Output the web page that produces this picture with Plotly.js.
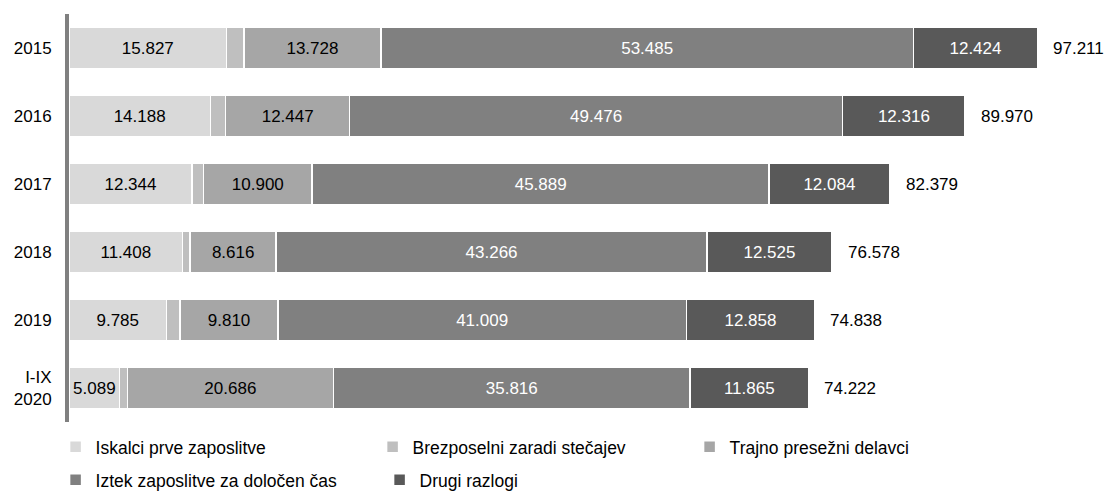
<!DOCTYPE html>
<html>
<head>
<meta charset="utf-8">
<script src="https://cdn.plot.ly/plotly-3.0.1.min.js"></script>
<style>html,body{margin:0;padding:0;background:#fff;}#chart{width:1110px;height:494px;}</style>
</head>
<body>
<div id="chart"></div>
<script>
const categories = ['2015', '2016', '2017', '2018', '2019', '2020'];
const tickLabels = ['2015', '2016', '2017', '2018', '2019', 'I-IX<br>2020'];
const seriesNames = ['Iskalci prve zaposlitve', 'Brezposelni zaradi stečajev', 'Trajno presežni delavci', 'Iztek zaposlitve za določen čas', 'Drugi razlogi'];
const iskalci = [15827, 14188, 12344, 11408, 9785, 5089];
const stecaji = [1747, 1543, 1162, 763, 1376, 766];
const trajno = [13728, 12447, 10900, 8616, 9810, 20686];
const iztek = [53485, 49476, 45889, 43266, 41009, 35816];
const drugi = [12424, 12316, 12084, 12525, 12858, 11865];
const totals = [97211, 89970, 82379, 76578, 74838, 74222];

const colors = ['#d9d9d9', '#bfbfbf', '#a6a6a6', '#808080', '#595959'];
const textColors = ['#000000', '#000000', '#000000', '#ffffff', '#ffffff'];
const showLabel = [true, false, true, true, true];
const seriesValues = [iskalci, stecaji, trajno, iztek, drugi];
const legendOf = ['legend', 'legend', 'legend', 'legend2', 'legend2'];

const FONT = '"Liberation Sans", Arial, sans-serif';

const traces = seriesValues.map((vals, i) => ({
  type: 'bar',
  orientation: 'h',
  name: seriesNames[i],
  y: categories,
  x: vals,
  marker: {color: colors[i], line: {color: '#ffffff', width: 1.5}},
  texttemplate: showLabel[i] ? '%{x:,}' : '',
  textposition: showLabel[i] ? 'inside' : 'none',
  insidetextanchor: 'middle',
  textangle: 0,
  constraintext: 'none',
  insidetextfont: {family: FONT, size: 17, color: textColors[i]},
  hoverinfo: 'skip',
  legend: legendOf[i]
}));

const annotations = totals.map((t, i) => ({
  x: t,
  y: i,
  xref: 'x',
  yref: 'y',
  text: t.toLocaleString('de-DE'),
  showarrow: false,
  xanchor: 'left',
  xshift: 14,
  font: {family: FONT, size: 17, color: '#000000'}
}));

const layout = {
  width: 1110,
  height: 494,
  barmode: 'stack',
  bargap: 0.38,
  separators: ',.',
  paper_bgcolor: '#ffffff',
  plot_bgcolor: '#ffffff',
  margin: {l: 69, r: 10, t: 14, b: 72, autoexpand: false},
  font: {family: FONT, size: 17, color: '#000000'},
  xaxis: {range: [0, 103500], showgrid: false, zeroline: false, showticklabels: false, showline: false, fixedrange: true},
  yaxis: {type: 'category', range: [5.5, -0.5], tickvals: categories, ticktext: tickLabels, showline: true, linecolor: '#808080', linewidth: 4, ticks: '', ticklabelstandoff: 10, showgrid: false, zeroline: false, tickfont: {family: FONT, size: 17, color: '#000000'}},
  showlegend: true,
  legend: {orientation: 'h', x: -0.013, y: -0.061, xanchor: 'left', yanchor: 'middle', entrywidth: 272, entrywidthmode: 'pixels', itemwidth: 30, font: {family: FONT, size: 17.5, color: '#000000'}, traceorder: 'normal', bgcolor: 'rgba(0,0,0,0)'},
  legend2: {orientation: 'h', x: -0.013, y: -0.142, xanchor: 'left', yanchor: 'middle', entrywidth: 279, entrywidthmode: 'pixels', itemwidth: 30, font: {family: FONT, size: 17.5, color: '#000000'}, traceorder: 'normal', bgcolor: 'rgba(0,0,0,0)'},
  annotations: annotations
};

Plotly.newPlot('chart', traces, layout, {displayModeBar: false, staticPlot: true});
</script>
</body>
</html>
